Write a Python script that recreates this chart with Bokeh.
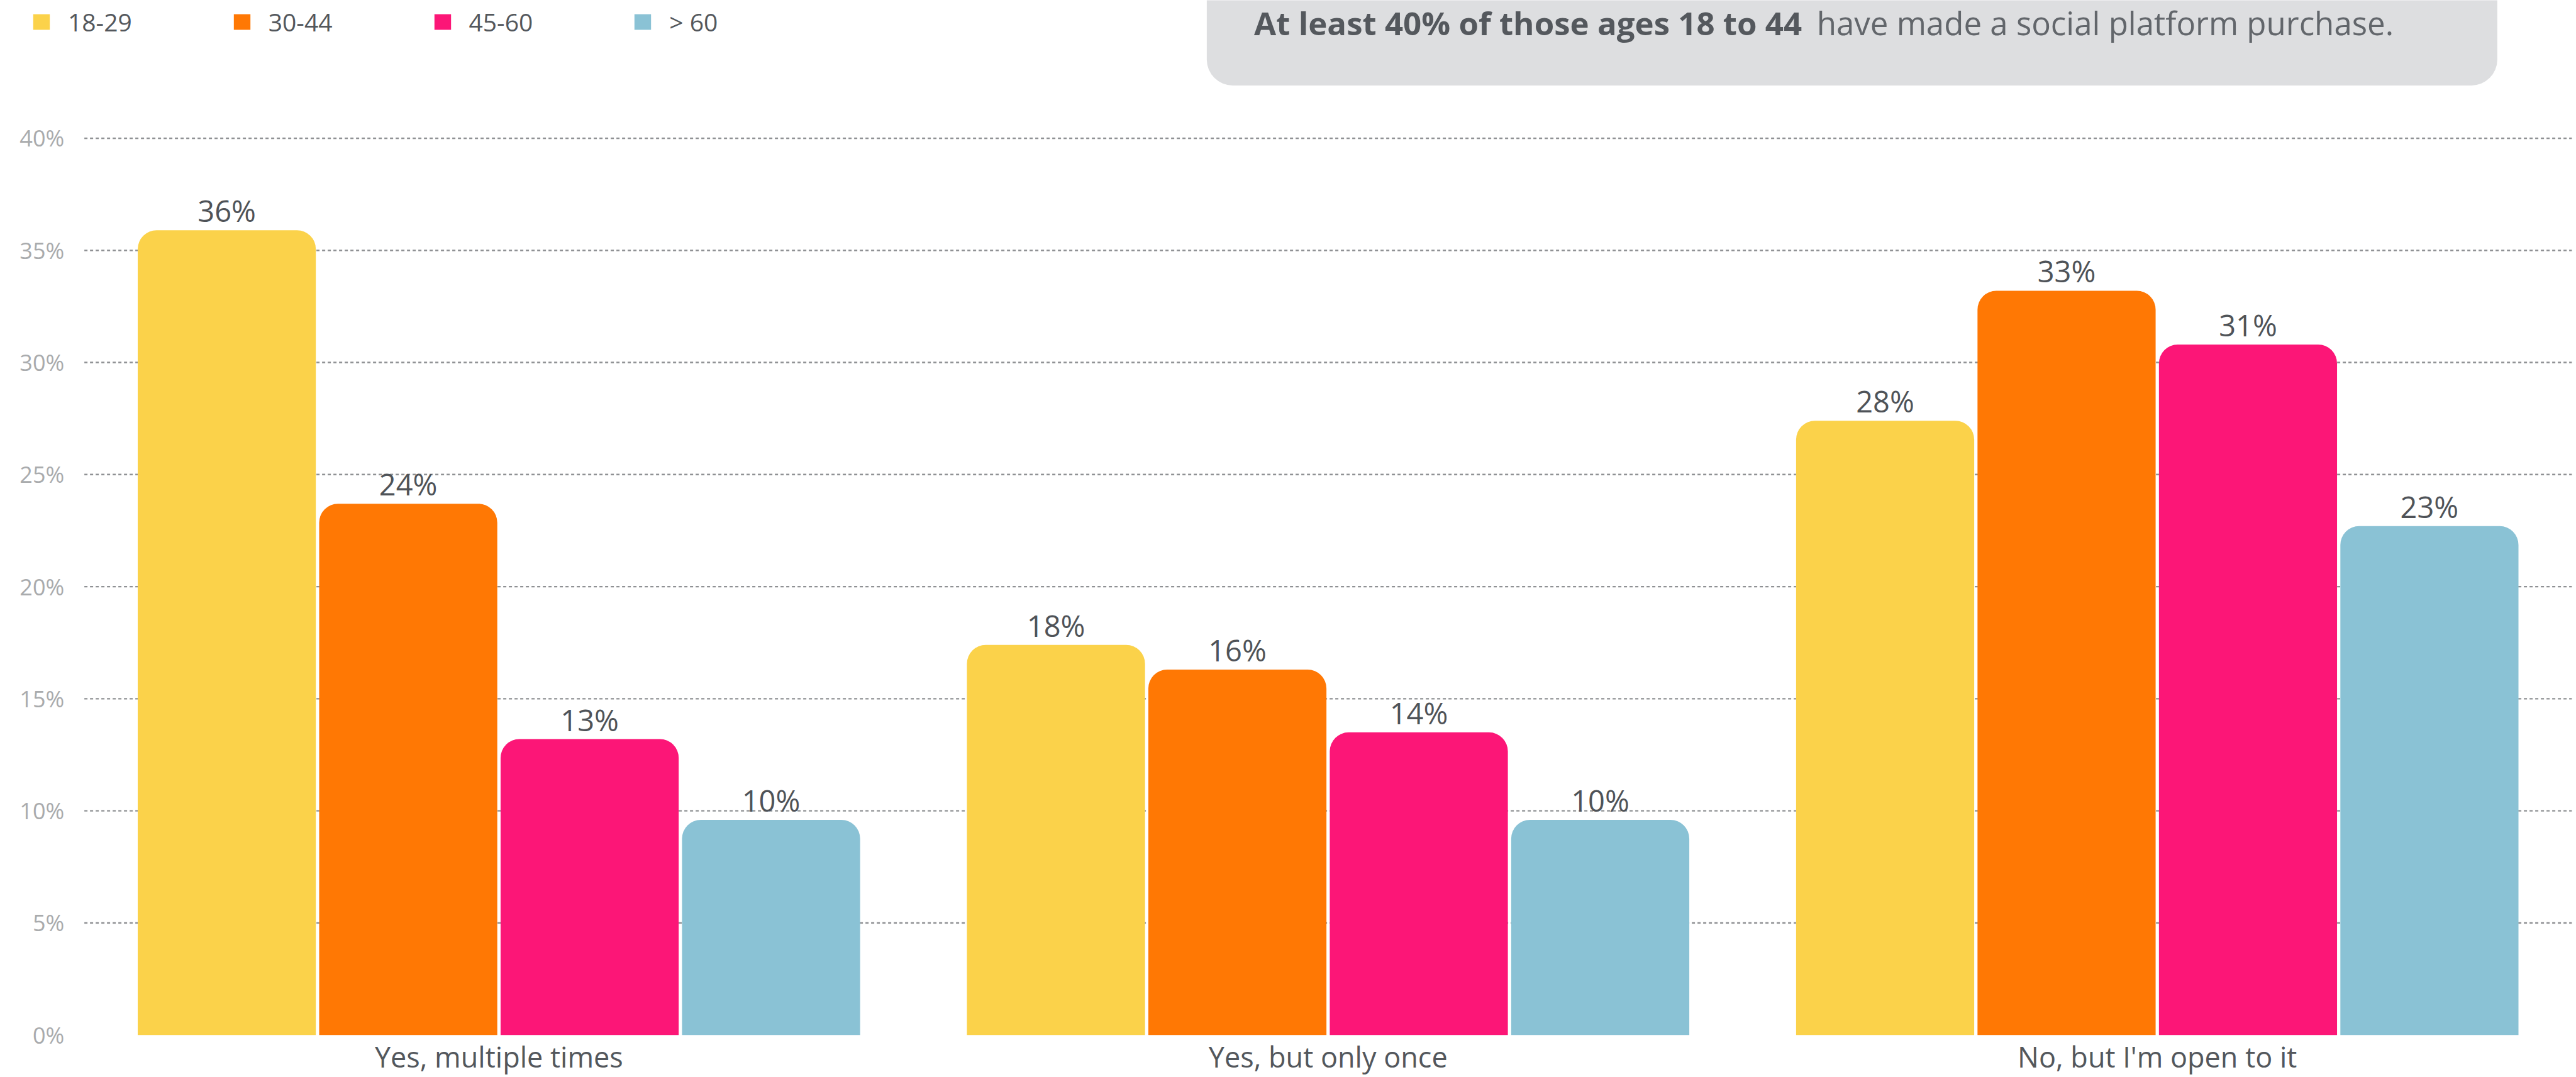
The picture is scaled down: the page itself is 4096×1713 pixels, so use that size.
from bokeh.plotting import figure
from bokeh.models import (Range1d, Legend, LegendItem, BoxAnnotation, ColumnDataSource)
from bokeh.core.properties import value
from bokeh.embed import file_html
from bokeh.resources import INLINE

# ---------------- data ----------------
categories = ["Yes, multiple times", "Yes, but only once", "No, but I'm open to it"]
age_groups = ["18-29", "30-44", "45-60", "> 60"]
values_18_29 = [35.9, 17.4, 27.4]
values_30_44 = [23.7, 16.3, 33.2]
values_45_60 = [13.2, 13.5, 30.8]
values_over_60 = [9.6, 9.6, 22.7]
labels_18_29 = ["36%", "18%", "28%"]
labels_30_44 = ["24%", "16%", "33%"]
labels_45_60 = ["13%", "14%", "31%"]
labels_over_60 = ["10%", "10%", "23%"]
y_ticks = [0, 5, 10, 15, 20, 25, 30, 35, 40]
y_tick_labels = ["0%", "5%", "10%", "15%", "20%", "25%", "30%", "35%", "40%"]
callout_bold = "At least 40% of those ages 18 to 44"
callout_rest = "have made a social platform purchase."

series_values = [values_18_29, values_30_44, values_45_60, values_over_60]
series_labels = [labels_18_29, labels_30_44, labels_45_60, labels_over_60]
colors = ["#fbd24a", "#ff7804", "#fc1677", "#8ac2d5"]

# ---------------- layout ----------------
W, H = 4096, 1713
REF_W, REF_H = 4629, 1936           # reference canvas
X0_REF, X3_REF = 151, 4621          # reference columns of x = 0 and x = 3
Y0_REF, Y40_REF = 1860, 248         # reference rows of 0 % and 40 %
UX = (X3_REF - X0_REF) / 3.0
UY = (Y0_REF - Y40_REF) / 40.0
SX, SY = W / REF_W, H / REF_H


def xr(px):
    return (px - X0_REF) / UX


def yr(py):
    return (Y0_REF - py) / UY


FONT = "Open Sans"
DARK = "#53575c"

p = figure(width=W, height=H, output_backend="svg", toolbar_location=None, tools="",
           x_range=Range1d(xr(0), xr(REF_W)), y_range=Range1d(yr(REF_H), yr(0)),
           min_border_left=0, min_border_right=0, min_border_top=0, min_border_bottom=0)
p.outline_line_color = None
p.background_fill_color = "white"
p.border_fill_color = "white"
p.xaxis.visible = False
p.yaxis.visible = False
p.xgrid.visible = False
p.ygrid.visible = False

cat_pos = [i + 0.5 for i in range(len(categories))]

# dotted value grid (from x = 0 to x = 3)
grid_y = y_ticks[1:]
p.segment(x0=[0] * len(grid_y), x1=[3] * len(grid_y), y0=grid_y, y1=grid_y,
          line_color="#8f9194", line_width=2.4, line_dash="5 4")

# value-axis labels
p.text(x=[xr(115)] * len(y_ticks), y=y_ticks, text=y_tick_labels, text_font=value(FONT),
       text_font_size="36px", text_color="#a9abad", text_align="right",
       text_baseline="middle")

# category labels
p.text(x=cat_pos, y=[yr(1899)] * len(categories), text=categories,
       text_font=value(FONT), text_font_size="45px", text_color=DARK,
       text_align="center", text_baseline="middle")

# callout box
box = BoxAnnotation(left=xr(2168), right=xr(4487), bottom=yr(153), top=yr(-120),
                    fill_color="#dddee0", fill_alpha=1.0, line_color=None,
                    border_radius=41, level="underlay")
p.add_layout(box)

p.text(x=[xr(2253)], y=[yr(40)], text=[callout_bold], text_font=value(FONT),
       text_font_style="bold", text_font_size="51px", text_color="#54585d",
       text_align="left", text_baseline="middle")
p.text(x=[xr(3264)], y=[yr(40)], text=[callout_rest], text_font=value(FONT),
       text_font_size="51px", text_color="#62666b",
       text_align="left", text_baseline="middle")

# bars
offsets = [-0.3282, -0.1094, 0.1094, 0.3282]
bar_w = 0.2148
items = []
for vals, labs, col, off, name in zip(series_values, series_labels, colors, offsets, age_groups):
    src = ColumnDataSource(dict(x=[c + off for c in cat_pos], top=vals, lab=labs))
    r = p.vbar(x="x", top="top", bottom=0, width=bar_w, source=src, fill_color=col,
               line_color=None, border_radius=(30, 30, 0, 0))
    p.text(x="x", y="top", text="lab", source=src, text_font=value(FONT),
           text_font_size="47px", text_color="#4f5358", text_align="center",
           text_baseline="middle", y_offset=-round(35 * SY))
    items.append(LegendItem(label=name, renderers=[r]))

legend = Legend(items=items, orientation="horizontal",
                location=(round(55 * SX), H - 61),
                glyph_width=33, glyph_height=31, label_standoff=26, spacing=158,
                padding=0, margin=0, border_line_color=None, background_fill_alpha=0,
                label_text_font=FONT, label_text_font_size="39px", label_text_color=DARK)
p.add_layout(legend)

open("out.html", "w").write(file_html(p, INLINE))
